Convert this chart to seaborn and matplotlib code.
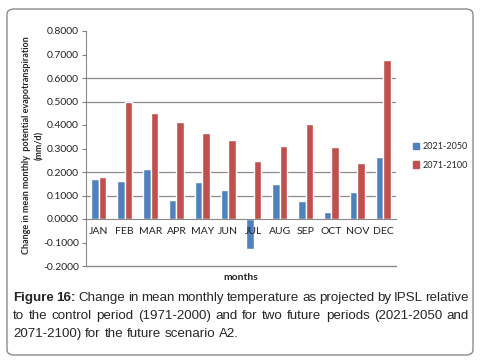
import numpy as np
import pandas as pd
import matplotlib
matplotlib.use("Agg")
import matplotlib.pyplot as plt
import seaborn as sns
from matplotlib.patches import FancyBboxPatch, Patch
from matplotlib.ticker import FormatStrFormatter

# ------- DATA ---------
months = ["JAN", "FEB", "MAR", "APR", "MAY", "JUN", "JUL", "AUG", "SEP", "OCT", "NOV", "DEC"]
period_1 = [0.170, 0.162, 0.213, 0.081, 0.157, 0.123, -0.126, 0.149, 0.077, 0.030, 0.115, 0.264]
period_2 = [0.179, 0.500, 0.451, 0.413, 0.366, 0.336, 0.247, 0.311, 0.404, 0.306, 0.238, 0.677]
series_names = ["2021-2050", "2071-2100"]
colors = ["#4F81BD", "#C0504D"]

df = pd.DataFrame({
    "month": months * 2,
    "value": period_1 + period_2,
    "period": [series_names[0]] * len(months) + [series_names[1]] * len(months),
})

# ------- FIGURE ---------
sns.set_style("white")
plt.rcParams["font.family"] = ["Lato", "DejaVu Sans"]

fig = plt.figure(figsize=(4.82, 3.6), dpi=100)
W, H = 482, 360

# rounded frame around chart + caption
frame = FancyBboxPatch((7 / W, 5 / H), 466 / W, 346 / H,
                       boxstyle="round,pad=0,rounding_size=0.015",
                       transform=fig.transFigure, fill=False,
                       edgecolor="#8c8c8c", linewidth=1.0)
fig.patches.append(frame)

ax = fig.add_axes([86 / W, 1 - 266 / H, 310 / W, 235 / H])
sns.barplot(data=df, x="month", y="value", hue="period", palette=colors,
            width=0.58, gap=0, saturation=1, ax=ax, legend=False)
ax.set_axisbelow(False)

ax.set_ylim(-0.2, 0.8)
ax.set_yticks(np.arange(-0.2, 0.81, 0.1))
ax.yaxis.set_major_formatter(FormatStrFormatter("%.4f"))
ax.tick_params(axis="y", labelsize=7.5, colors="#222222", length=3, direction="out",
               left=True, color="#808080", pad=2)
ax.tick_params(axis="x", labelsize=7.5, colors="#222222", length=0, pad=6)

# gridlines visible in the reference
for yv in [0.6, 0.5, 0.2, 0.1]:
    ax.axhline(yv, color="#8a8a8a", linewidth=0.9, zorder=0)
ax.axhline(-0.2, color="#8a8a8a", linewidth=1.0, zorder=0, clip_on=False)

ax.spines["bottom"].set_position(("data", 0))
ax.spines["bottom"].set_color("#8a8a8a")
ax.spines["left"].set_color("#8a8a8a")
for s in ["top", "right"]:
    ax.spines[s].set_visible(False)
ax.set_xlabel("")
ax.set_ylabel("")
ax.text(0.5, -0.03, "months", transform=ax.transAxes, ha="center", va="top",
        fontsize=7.5, fontweight="bold")

fig.text(33 / W, 1 - 145 / H,
         "Change in mean monthly  potential evapotranspiration\n(mm/d)",
         rotation=90, ha="center", va="center", fontsize=6.5, fontweight="bold",
         multialignment="center", linespacing=1.5)

handles = [Patch(facecolor=c, edgecolor=c) for c in colors]
fig.legend(handles, series_names, loc="center left", bbox_to_anchor=(405 / W, 1 - 156 / H),
           frameon=False, fontsize=6.5, handlelength=0.7, handleheight=0.7,
           handletextpad=0.4, labelspacing=1.0)

# ------- CAPTION (justified) ---------
cap_lines = [
    [("Figure", True), ("16:", True)] + [(w, False) for w in "Change in mean monthly temperature as projected by IPSL relative".split()],
    [(w, False) for w in "to the control period (1971-2000) and for two future periods (2021-2050 and".split()],
    [(w, False) for w in "2071-2100) for the future scenario A2.".split()],
]
cap_font = ["Liberation Sans", "DejaVu Sans"]
cap_size = 9.6
x0, x1 = 13, 469
ys = [298, 316, 334]
renderer = fig.canvas.get_renderer()
for li, (words, yp) in enumerate(zip(cap_lines, ys)):
    texts = []
    for w, bold in words:
        t = fig.text(0, 1 - yp / H, w, fontsize=cap_size, family=cap_font,
                     fontweight="bold" if bold else "normal", va="center", ha="left")
        texts.append(t)
    widths = [t.get_window_extent(renderer).width for t in texts]
    if li < len(cap_lines) - 1:
        gap = (x1 - x0 - sum(widths)) / (len(texts) - 1)
    else:
        gap = cap_size * 100 / 72 * 0.278
    x = x0
    for t, wd in zip(texts, widths):
        t.set_x(x / W)
        x += wd + gap

fig.savefig("out.png", dpi=100)
